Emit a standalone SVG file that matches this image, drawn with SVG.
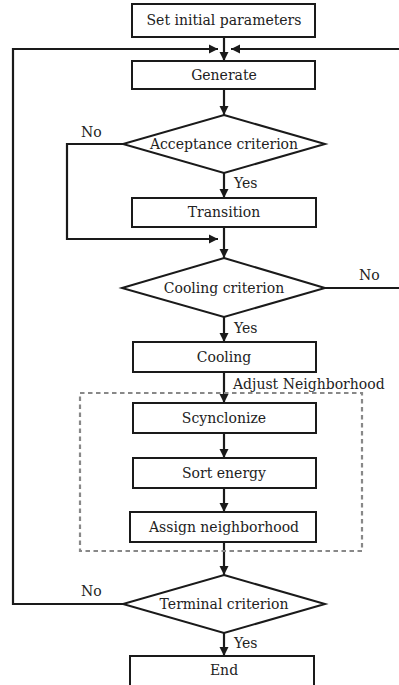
<svg xmlns="http://www.w3.org/2000/svg" width="399" height="685" viewBox="0 0 399 685">
<defs>
<marker id="ah" viewBox="0 0 10 10" refX="10" refY="5" markerWidth="4.2" markerHeight="4.2" orient="auto" markerUnits="strokeWidth">
<path d="M0,0 L10,5 L0,10 z" fill="#1a1a1a"/>
</marker>
<style>
.box{fill:#fff;stroke:#1a1a1a;stroke-width:2}
.dia{fill:#fff;stroke:#1a1a1a;stroke-width:2}
.arr{fill:none;stroke:#1a1a1a;stroke-width:2.2;marker-end:url(#ah)}
.t{font-family:"DejaVu Serif","Liberation Serif",serif;font-size:14px;fill:#222;text-anchor:middle}
.l{font-family:"DejaVu Serif","Liberation Serif",serif;font-size:14px;fill:#222}
.dash{fill:none;stroke:#888;stroke-width:2.2;stroke-dasharray:4.5 3.5}
</style>
</defs>
<rect width="399" height="685" fill="#fff"/>
<g id="connectors">
<line class="arr" x1="224" y1="37" x2="224" y2="61"/>
<polyline class="arr" points="123,604 13,604 13,49 218,49"/>
<polyline class="arr" points="325,288 402,288 402,49 231,49"/>
<line class="arr" x1="224" y1="89" x2="224" y2="115"/>
<polyline class="arr" points="123,144 67,144 67,239 218,239"/>
<line class="arr" x1="224" y1="173" x2="224" y2="198"/>
<line class="arr" x1="224" y1="227" x2="224" y2="258"/>
<line class="arr" x1="224" y1="317" x2="224" y2="342"/>
<line class="arr" x1="224" y1="372" x2="224" y2="403"/>
<line class="arr" x1="224" y1="433" x2="224" y2="458"/>
<line class="arr" x1="224" y1="488" x2="224" y2="512"/>
<line class="arr" x1="224" y1="542" x2="224" y2="575"/>
<line class="arr" x1="224" y1="633" x2="224" y2="656"/>
<text class="l" x="81" y="137">No</text>
<text class="l" x="234" y="188">Yes</text>
<text class="l" x="359" y="280">No</text>
<text class="l" x="234" y="333">Yes</text>
<text class="l" x="233" y="389">Adjust Neighborhood</text>
<text class="l" x="81" y="596">No</text>
<text class="l" x="234" y="648">Yes</text>
</g>
<g id="adjust-neighborhood">
<rect class="dash" x="80" y="393" width="282" height="158"/>
</g>
<g id="set-initial"><rect class="box" x="132" y="4" width="183" height="33"/><text class="t" x="224" y="25">Set initial parameters</text></g>
<g id="generate"><rect class="box" x="132" y="61" width="183" height="28"/><text class="t" x="224" y="80">Generate</text></g>
<g id="acceptance"><polygon class="dia" points="224,115 325,144 224,173 123,144"/><text class="t" x="224" y="149">Acceptance criterion</text></g>
<g id="transition"><rect class="box" x="132" y="198" width="184" height="29"/><text class="t" x="224" y="217">Transition</text></g>
<g id="cooling-criterion"><polygon class="dia" points="224,258 325,288 224,317 122,288"/><text class="t" x="224" y="293">Cooling criterion</text></g>
<g id="cooling"><rect class="box" x="133" y="342" width="183" height="30"/><text class="t" x="224" y="362">Cooling</text></g>
<g id="synchronize"><rect class="box" x="133" y="403" width="183" height="30"/><text class="t" x="224" y="423">Scynclonize</text></g>
<g id="sort-energy"><rect class="box" x="133" y="458" width="183" height="30"/><text class="t" x="224" y="478">Sort energy</text></g>
<g id="assign"><rect class="box" x="130" y="512" width="186" height="30"/><text class="t" x="224" y="532">Assign neighborhood</text></g>
<g id="terminal"><polygon class="dia" points="224,575 325,604 224,633 123,604"/><text class="t" x="224" y="609">Terminal criterion</text></g>
<g id="end"><rect class="box" x="130" y="656" width="184" height="36"/><text class="t" x="224" y="675">End</text></g>
</svg>
